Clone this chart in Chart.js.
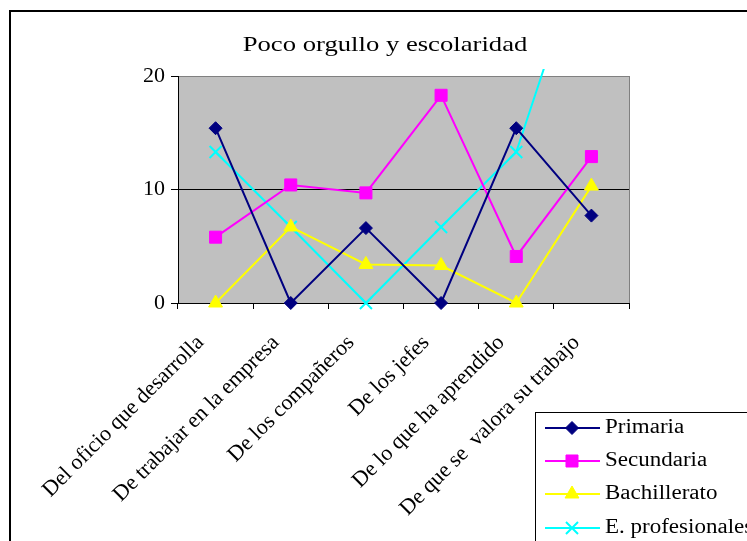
<!DOCTYPE html>
<html>
<head>
<meta charset="utf-8">
<script src="https://cdn.jsdelivr.net/npm/chart.js@4/dist/chart.umd.min.js"></script>
<style>
html,body{margin:0;padding:0;background:#fff;}
#wrap{width:747px;height:541px;position:relative;}
</style>
</head>
<body>
<div id="wrap"><canvas id="c" width="747" height="541"></canvas></div>
<script>
const chartTitle = 'Poco orgullo y escolaridad';
const categories = ['Del oficio que desarrolla', 'De trabajar en la empresa', 'De los compañeros', 'De los jefes', 'De lo que ha aprendido', 'De que se  valora su trabajo'];
const primaria = [15.4, 0, 6.6, 0, 15.4, 7.7];
const secundaria = [5.8, 10.4, 9.7, 18.3, 4.1, 12.9];
const bachillerato = [0, 6.7, 3.4, 3.3, 0, 10.3];
const profesionales = [13.3, 6.7, 0, 6.7, 13.3, 33.3];
const yTicks = [0, 10, 20];

const serif = "'Liberation Serif', 'Times New Roman', serif";

function stretchText(ctx, text, x, y, size, sx, align) {
  ctx.save();
  ctx.font = size + 'px ' + serif;
  ctx.textAlign = align;
  ctx.textBaseline = 'middle';
  ctx.translate(x, y);
  ctx.scale(sx, 1);
  ctx.fillText(text, 0, 0);
  ctx.restore();
}

const framePlugin = {
  id: 'frame',
  beforeDraw(chart) {
    const {ctx, chartArea: a} = chart;
    ctx.save();
    ctx.fillStyle = '#fff';
    ctx.fillRect(0, 0, chart.width, chart.height);
    ctx.fillStyle = '#C0C0C0';
    ctx.fillRect(a.left, a.top, a.right - a.left, a.bottom - a.top);
    ctx.restore();
  },
  afterDraw(chart) {
    const {ctx, chartArea: a} = chart;
    ctx.save();
    // right plot border
    ctx.strokeStyle = '#808080';
    ctx.lineWidth = 1;
    ctx.beginPath();
    ctx.moveTo(a.right + 0.5, a.top);
    ctx.lineTo(a.right + 0.5, a.bottom);
    ctx.stroke();
    // outer frame
    ctx.strokeStyle = '#000';
    ctx.lineWidth = 2;
    ctx.strokeRect(10, 11, 900, 700);
    // title
    ctx.fillStyle = '#000';
    stretchText(ctx, chartTitle, 385, 45, 21, 1.27, 'center');
    // legend
    const lx = 535, ly = 412;
    ctx.lineWidth = 1;
    ctx.strokeStyle = '#000';
    ctx.strokeRect(lx + 0.5, ly + 0.5, 300, 200);
    const rows = [428, 461, 494, 528];
    chart.data.datasets.forEach((ds, i) => {
      const y = rows[i];
      ctx.strokeStyle = ds.borderColor;
      ctx.lineWidth = 2;
      ctx.beginPath();
      ctx.moveTo(545, y);
      ctx.lineTo(600, y);
      ctx.stroke();
      ctx.fillStyle = ds.pointBackgroundColor;
      ctx.strokeStyle = ds.pointBorderColor;
      ctx.lineWidth = ds.pointBorderWidth;
      Chart.helpers.drawPoint(ctx, {pointStyle: ds.pointStyle, radius: ds.pointRadius, borderWidth: ds.pointBorderWidth, rotation: 0}, 572, y);
      ctx.fillStyle = '#000';
      stretchText(ctx, ds.label, 605, y, 20, 1.15, 'left');
    });
    ctx.restore();
  }
};

function mk(label, data, color, style, r) {
  return {
    label, data,
    borderColor: color,
    backgroundColor: color,
    pointBackgroundColor: color,
    pointBorderColor: color,
    pointStyle: style,
    pointRadius: r,
    pointHoverRadius: r,
    pointBorderWidth: style === 'crossRot' ? 2 : 1,
    borderWidth: 2,
    tension: 0,
    clip: {left: 12, right: 12, top: 7, bottom: 12}
  };
}

new Chart(document.getElementById('c'), {
  type: 'line',
  data: {
    labels: categories,
    datasets: [
      mk('Primaria', primaria, '#000080', 'rectRot', 6.5),
      mk('Secundaria', secundaria, '#FF00FF', 'rect', 8.5),
      mk('Bachillerato', bachillerato, '#FFFF00', 'triangle', 8),
      mk('E. profesionales', profesionales, '#00FFFF', 'crossRot', 8.5)
    ]
  },
  options: {
    responsive: false,
    animation: false,
    devicePixelRatio: 1,
    layout: {padding: {left: 0, top: 76, right: 118, bottom: 0}},
    plugins: {legend: {display: false}, title: {display: false}, tooltip: {enabled: false}},
    scales: {
      x: {
        offset: true,
        grid: {offset: true, drawOnChartArea: false, color: '#000', tickLength: 6},
        border: {color: '#000', width: 1},
        ticks: {
          autoSkip: false, maxRotation: 45, minRotation: 45,
          color: '#000', font: {family: serif, size: 22}, padding: 21, labelOffset: -15
        },
        afterFit(s) { s.height = 238; }
      },
      y: {
        min: 0, max: 20,
        afterBuildTicks(s) { s.ticks = yTicks.map(v => ({value: v})); },
        grid: {
          color: (c) => (c.tick && c.tick.value === 20) ? '#808080' : '#000',
          tickColor: '#000', tickLength: 7, lineWidth: 1
        },
        border: {color: '#000', width: 1},
        ticks: {color: '#000', font: {family: serif, size: 22}, padding: 6},
        afterFit(s) { s.width = 178; }
      }
    }
  },
  plugins: [framePlugin]
});
</script>
</body>
</html>
